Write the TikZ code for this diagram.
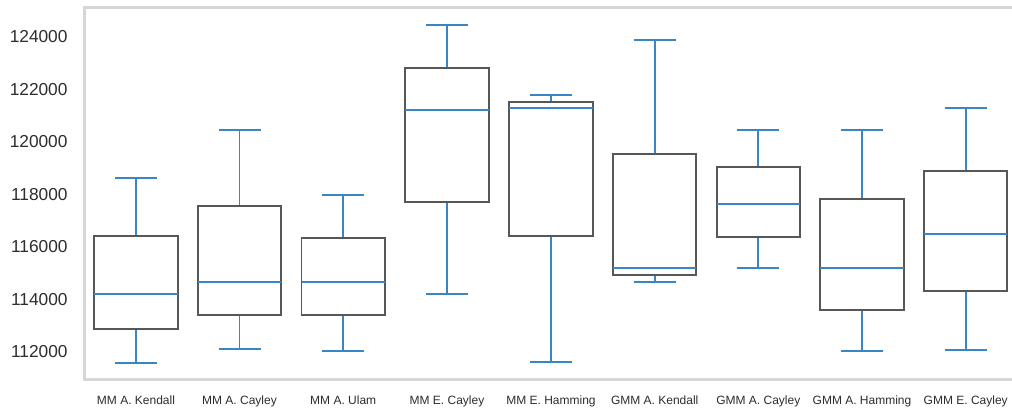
\documentclass[tikz,border=0pt]{standalone}
\usepackage{fontspec}
\setmainfont{Liberation Sans}
\definecolor{boxedge}{RGB}{87,87,87}
\definecolor{whisk}{RGB}{58,134,196}
\definecolor{spine}{RGB}{214,214,214}
\definecolor{ticktext}{RGB}{45,45,45}
\newcommand{\bxplot}[7]{%
  % #1 name, #2 center x, #3 top whisker, #4 Q3, #5 median, #6 Q1, #7 low whisker
  \coordinate (#1top) at (#2,#3);
  \coordinate (#1q3) at (#2,#4);
  \coordinate (#1q1) at (#2,#6);
  \coordinate (#1low) at (#2,#7);
  \draw[whiskline] (#1top) -- (#1q3);
  \draw[whiskline] (#1q1) -- (#1low);
  \draw[whiskline] ([xshift=-21pt]#1top) -- ([xshift=21pt]#1top);
  \draw[whiskline] ([xshift=-21pt]#1low) -- ([xshift=21pt]#1low);
  \draw[boxline] ([xshift=-41.7pt]#1q3) rectangle ([xshift=41.7pt]#1q1);
  \draw[whiskline] ([xshift=-41.7pt]#2,#5) -- ([xshift=41.7pt]#2,#5);
}
\begin{document}
\begin{tikzpicture}[x=1pt,y=-1pt,
  whiskline/.style={draw=whisk,line width=1.9pt},
  boxline/.style={draw=boxedge,line width=1.9pt,fill=white},
  ylab/.style={anchor=east,font=\fontsize{17.3}{20}\selectfont,text=ticktext,inner sep=0pt},
  xlab/.style={anchor=base,font=\fontsize{12}{14}\selectfont,text=ticktext,inner sep=0pt}]
\useasboundingbox[fill=white] (0,0) rectangle (1012,413);
% frame
\draw[spine,line width=2.2pt] (1012,7.5) -- (84.5,7.5) -- (84.5,379.5) -- (1012,379.5);
% y tick labels
\foreach \v/\yy [count=\i] in {124000/36.7,122000/89.2,120000/141.7,118000/194.2,116000/246.7,114000/299.2,112000/351.7}
  \node[ylab] (yl\i) at (67.7,\yy) {\v};
% boxes
\bxplot{b1}{136}{178.3}{236}{294}{329}{362.7}
\bxplot{b2}{239.5}{129.7}{206}{282}{315.3}{349.3}
\bxplot{b3}{343.2}{195}{238.3}{282}{315.3}{350.7}
\bxplot{b4}{447}{24.7}{68.3}{110}{202}{294}
\bxplot{b5}{551}{95}{101.7}{107.7}{236}{362.3}
\bxplot{b6}{654.7}{40.3}{154}{268.3}{274.7}{282}
\bxplot{b7}{758.3}{129.7}{167.3}{204.3}{237.3}{268.3}
\bxplot{b8}{862}{129.7}{198.7}{268.3}{309.7}{350.7}
\bxplot{b9}{965.7}{108}{171}{233.7}{291.3}{349.7}
% x labels
\node[xlab] (xl1) at (136,404.5) {MM A. Kendall};
\node[xlab] (xl2) at (239.5,404.5) {MM A. Cayley};
\node[xlab] (xl3) at (343.2,404.5) {MM A. Ulam};
\node[xlab] (xl4) at (447,404.5) {MM E. Cayley};
\node[xlab] (xl5) at (551,404.5) {MM E. Hamming};
\node[xlab] (xl6) at (654.7,404.5) {GMM A. Kendall};
\node[xlab] (xl7) at (758.3,404.5) {GMM A. Cayley};
\node[xlab] (xl8) at (862,404.5) {GMM A. Hamming};
\node[xlab] (xl9) at (965.7,404.5) {GMM E. Cayley};
\end{tikzpicture}
\end{document}
